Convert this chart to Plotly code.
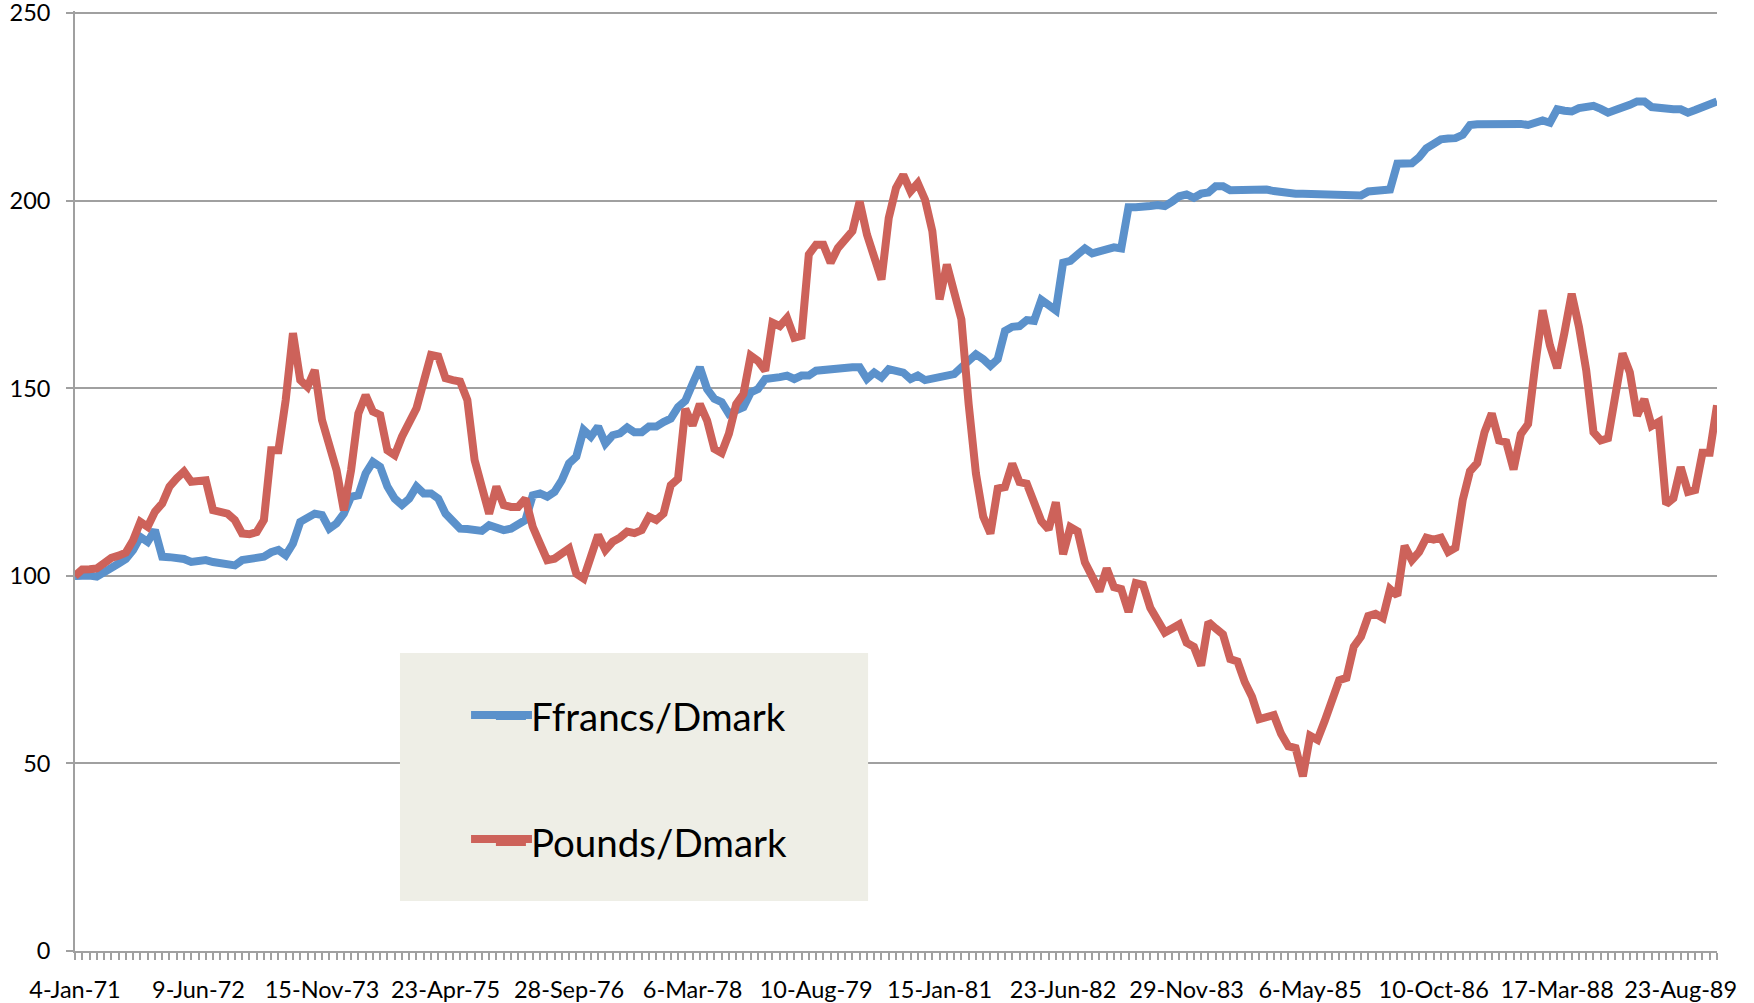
import plotly.graph_objects as go

# Tick labels (every 17th observation)
date_labels = ["4-Jan-71", "9-Jun-72", "15-Nov-73", "23-Apr-75", "28-Sep-76", "6-Mar-78",
               "10-Aug-79", "15-Jan-81", "23-Jun-82", "29-Nov-83", "6-May-85", "10-Oct-86",
               "17-Mar-88", "23-Aug-89"]
label_step = 17
y_ticks = [0, 50, 100, 150, 200, 250]

# Ffrancs/Dmark index (1971 = 100)
ffrancs_dmark = [
    100, 100.3, 100.1, 99.8, 100.8, 102.3, 103.3, 104.5, 106.9, 110.4,
    109.1, 112.2, 105.1, 105, 104.8, 104.5, 103.7, 104, 104.2, 103.7,
    103.3, 103, 102.8, 104.2, 104.6, 104.9, 105.1, 106.3, 106.9, 105.5,
    108.6, 114.4, 115.5, 116.6, 116.2, 112.6, 114, 116.6, 121.1, 121.5,
    127.3, 130.4, 129.1, 123.8, 120.6, 118.9, 120.6, 123.8, 122, 122,
    120.6, 116.6, 114.6, 112.6, 112.5, 112.4, 112, 113.5, 112.8, 112.2,
    112.6, 113.8, 114.9, 121.5, 122, 121.1, 122.4, 125.5, 130, 131.8,
    138.9, 137.1, 139.8, 135.3, 137.5, 138, 139.6, 138.3, 138.3, 139.8,
    139.8, 141, 141.9, 145, 146.7, 151.2, 155.6, 149.8, 147.2, 146.3,
    143.2, 144.1, 145, 148.9, 149.8, 152.5, 152.5, 153, 153.4, 152.5,
    153.4, 153.4, 154.7, 154.9, 155.1, 155.6, 155.6, 155.6, 155.6, 152.5,
    154.2, 152.9, 155.1, 154.6, 154.2, 152.5, 153.4, 152.2, 152.6, 152.9,
    152.9, 153.8, 155.6, 157.3, 159.1, 157.8, 156, 157.8, 165.3, 166.4,
    166.6, 168.2, 168, 173.6, 172.5, 170.8, 183.5, 184, 185.7, 187.3,
    186, 186.5, 187, 187.6, 187.3, 198.3, 198.3, 198.3, 198.6, 198.9,
    198.6, 199.8, 201.2, 201.7, 200.8, 201.9, 202.2, 203.9, 203.9, 202.8,
    202.9, 203, 202.8, 202.9, 203, 202.6, 202.2, 202, 201.9, 201.9,
    201.9, 201.7, 201.5, 201.4, 201.6, 201.9, 201.6, 201.4, 202.5, 202.7,
    202.9, 203, 209.9, 209.9, 210, 211.6, 214, 215.2, 216.4, 216.6,
    216.7, 217.6, 220.2, 220.4, 220.5, 220.3, 220.2, 220.5, 220.8, 220.5,
    220.2, 220.8, 221.4, 220.8, 224.4, 224, 223.8, 224.7, 225, 225.3,
    224.5, 223.5, 224.2, 224.7, 225.6, 226.5, 226.5, 225, 224.7, 224.4,
    224.4, 224.4, 223.5, 224.2, 225, 225.8, 226.5,
]

# Pounds/Dmark index (1971 = 100)
pounds_dmark = [
    100, 101.7, 101.8, 102, 103.4, 104.8, 105.4, 106.2, 109.5, 114.4,
    113.1, 117.1, 119.3, 123.8, 126, 127.8, 125.1, 125.3, 125.5, 117.5,
    117, 116.6, 114.9, 111.3, 111.1, 111.7, 114.9, 133.5, 133.5, 146.9,
    164.7, 152.2, 150.4, 154.9, 141.5, 134.9, 128.2, 117.5, 128.2, 143.3,
    148.2, 143.8, 142.9, 133.5, 132.2, 137.1, 141, 144.7, 151.8, 158.9,
    158.5, 152.7, 152.2, 151.8, 146.9, 130.9, 123.7, 116.6, 123.8, 118.9,
    118.4, 118.4, 120.6, 113.1, 108.6, 104.2, 104.6, 106, 107.3, 100.6,
    99.3, 105.1, 110.9, 106.9, 109.1, 110.2, 111.8, 111.4, 112.2, 115.8,
    114.9, 116.6, 124.2, 125.9, 144.5, 140.1, 145.8, 141.4, 133.9, 132.8,
    137.9, 145.8, 148.5, 158.7, 157.3, 154.7, 167.5, 166.6, 168.8, 163.5,
    164, 185.7, 188.3, 188.3, 183.5, 187.4, 189.5, 191.9, 199.8, 191,
    185, 179, 195.4, 203.4, 206.9, 202.5, 204.7, 200.3, 191.9, 173.7,
    183, 175, 168.4, 145.8, 127.3, 115.8, 111.3, 123.3, 123.7, 129.9,
    125, 124.6, 119.6, 114.6, 112.4, 119.6, 105.8, 113, 111.9, 103.6,
    99.8, 95.9, 102, 97, 96.5, 90.4, 98.1, 97.6, 91.5, 88.2,
    84.9, 86, 87.1, 82.2, 81.1, 76.1, 87.7, 86, 84.4, 77.8,
    77.2, 71.7, 67.8, 61.8, 62.3, 62.9, 57.9, 54.6, 54.1, 46.6,
    57.4, 56.3, 61.3, 66.2, 72.2, 72.8, 81.1, 83.8, 89.3, 89.9,
    88.8, 96.5, 94.8, 108, 104.2, 106.4, 110.2, 109.7, 110.2, 106.4,
    107.5, 120.2, 127.9, 130.1, 138.3, 143.3, 136.1, 135.6, 128.4, 137.8,
    140.5, 156.5, 170.8, 161.5, 155.4, 164.8, 175.2, 166.4, 154.8, 138.3,
    136.1, 136.7, 147.7, 159.3, 154.3, 142.7, 147.1, 140, 141.1, 119.1,
    120.7, 129, 122.4, 122.9, 132.8, 132.8, 145.5,
]

series_names = ["Ffrancs/Dmark", "Pounds/Dmark"]

x_idx = list(range(len(ffrancs_dmark)))
tick_positions = [k * label_step for k in range(len(date_labels))]

BLUE = "#5B91CB"
RED = "#CD625A"
GRID = "#A0A0A0"
FONT = "Lato"
LW = 8

fig = go.Figure()
fig.add_trace(go.Scatter(x=x_idx, y=ffrancs_dmark, mode="lines", name=series_names[0],
                         line=dict(color=BLUE, width=LW), legendgroup="a"))
fig.add_trace(go.Scatter(x=x_idx, y=pounds_dmark, mode="lines", name=series_names[1],
                         line=dict(color=RED, width=LW), legendgroup="b"))

# legend panel (background box and longer key lines, Excel style)
shapes = [dict(type="rect", xref="paper", yref="paper",
               x0=0.1979, x1=0.4830, y0=0.0532, y1=0.3170,
               fillcolor="#EEEEE6", line=dict(width=0), layer="above")]
for col, yk in ((BLUE, 0.2511), (RED, 0.1191)):
    shapes.append(dict(type="line", xref="paper", yref="paper",
                       x0=0.2412, x1=0.2783, y0=yk, y1=yk,
                       line=dict(color=col, width=LW), layer="above"))

fig.update_layout(
    width=1754, height=1003,
    margin=dict(l=75, r=37, t=11, b=52, autoexpand=False),
    paper_bgcolor="white", plot_bgcolor="white",
    font=dict(family=FONT, size=23.5, color="black"),
    showlegend=True,
    legend=dict(x=0.2533, y=0.2836, xanchor="left", yanchor="top",
                bgcolor="rgba(0,0,0,0)", borderwidth=0,
                font=dict(family=FONT, size=38.5, color="black"),
                tracegroupgap=73),
    shapes=shapes,
)

fig.update_xaxes(
    range=[0, len(x_idx) - 1], showgrid=False, zeroline=False,
    showline=True, linecolor=GRID, linewidth=1.7,
    tickmode="array", tickvals=tick_positions, ticktext=date_labels,
    ticks="outside", ticklen=7, tickcolor=GRID, tickwidth=1.5,
    ticklabelstandoff=10, ticklabeloverflow="allow",
    minor=dict(dtick=1, tick0=0, ticks="outside", ticklen=7, tickcolor=GRID, tickwidth=1.5, showgrid=False),
    tickfont=dict(family=FONT, size=23.5, color="black"),
    automargin=False,
)
fig.update_yaxes(
    range=[0, 250.6], tickmode="array", tickvals=y_ticks,
    showgrid=True, gridcolor=GRID, gridwidth=1.7,
    zeroline=False, showline=True, linecolor=GRID, linewidth=1.7,
    ticks="outside", ticklen=7, tickcolor=GRID, tickwidth=1.5,
    ticklabelstandoff=11, ticklabeloverflow="allow",
    tickfont=dict(family=FONT, size=23.5, color="black"),
    automargin=False,
)

# remove the default 8px page margin so the figure fills the window exactly
fig.write_html("out.html", config={"displayModeBar": False},
               post_script="document.body.style.margin='0';")
